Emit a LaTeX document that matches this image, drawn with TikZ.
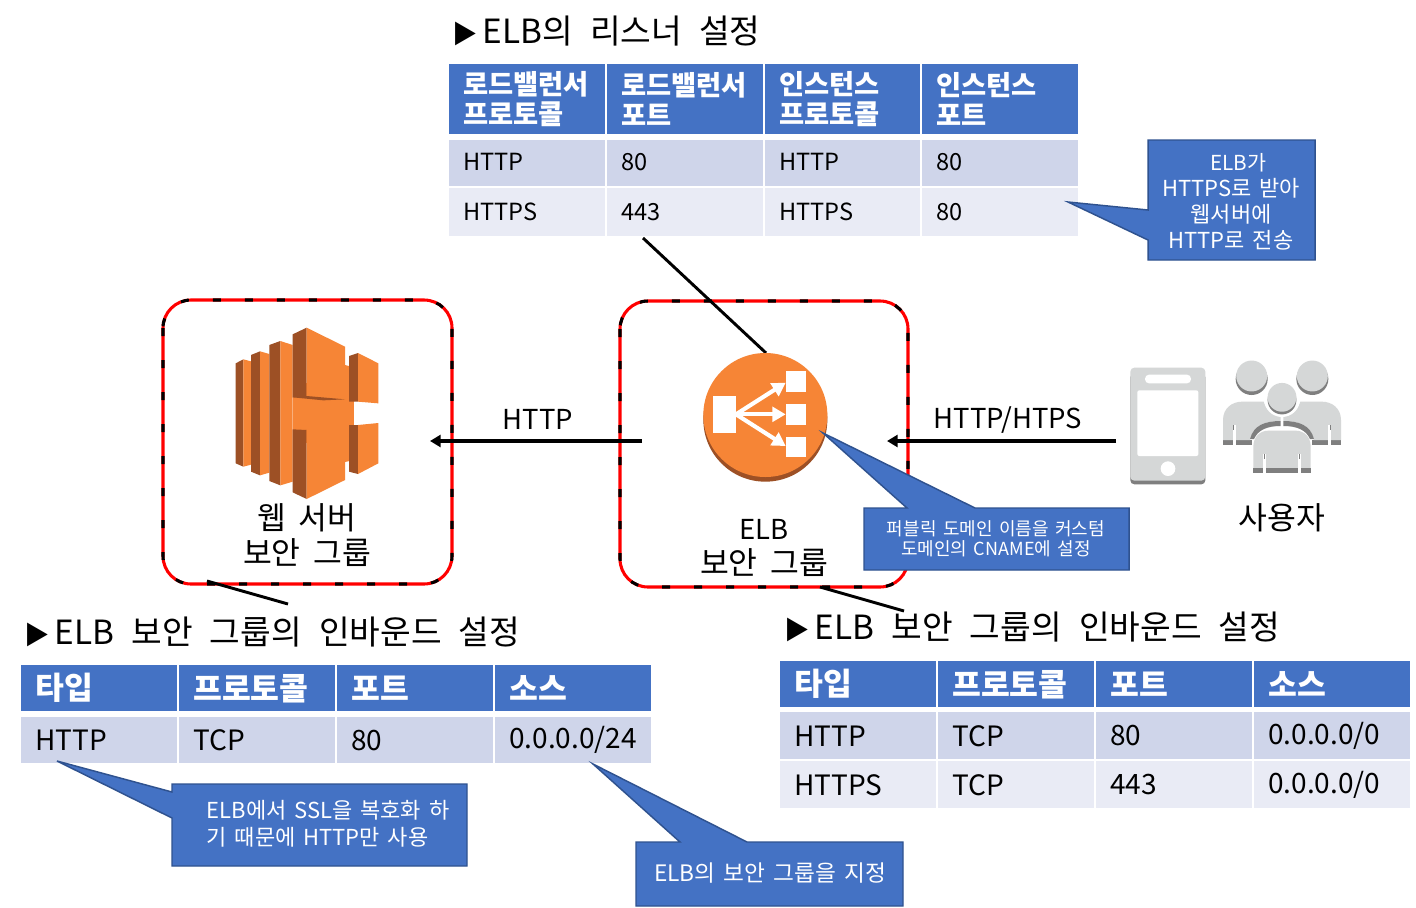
\documentclass[tikz,border=0pt]{standalone}
\usepackage{fontspec}
\setmainfont[WordSpace=1.6]{Noto Sans CJK KR}
\newfontfamily\widefont[WordSpace=2.3]{Noto Sans CJK KR}
\newfontfamily\labelfont[WordSpace=1.8]{Noto Sans CJK KR}
\usetikzlibrary{arrows.meta}
\definecolor{hdrblue}{HTML}{4472C4}
\definecolor{bandA}{HTML}{CFD5EA}
\definecolor{bandB}{HTML}{E9EBF5}
\definecolor{calloutedge}{HTML}{2F528F}
\definecolor{awsorange}{HTML}{F68536}
\definecolor{awsdark}{HTML}{9D5025}
\definecolor{greyL}{HTML}{D5D7D7}
\definecolor{greyD}{HTML}{7F7F7F}
\tikzset{
 hdrcell/.style={fill=hdrblue,text=white,font=\fontsize{20.5}{22.5}\selectfont\bfseries},
 bandacell/.style={fill=bandA,text=black,font=\fontsize{17.7}{22}\selectfont},
 bandbcell/.style={fill=bandB,text=black,font=\fontsize{17.7}{22}\selectfont},
 hdrcellbig/.style={fill=hdrblue,text=white,font=\fontsize{23.5}{26}\selectfont\bfseries},
 bandacellbig/.style={fill=bandA,text=black,font=\fontsize{21}{24}\selectfont},
 bandbcellbig/.style={fill=bandB,text=black,font=\fontsize{21}{24}\selectfont},
 calloutshape/.style={fill=hdrblue,draw=calloutedge,line width=1.1pt,line join=miter},
 callouttext/.style={text=white,align=center,inner sep=0pt},
 link/.style={draw=black,line width=2.2pt},
 flow/.style={draw=black,line width=3pt,-{Triangle[length=8pt,width=9pt]}},
 title/.style={anchor=west,inner sep=0pt,font=\widefont\fontsize{25}{28}\selectfont},
 label/.style={align=center,inner sep=0pt,font=\labelfont\fontsize{23.5}{26.5}\selectfont},
 latinlabel/.style={align=center,inner sep=0pt,font=\fontsize{20.6}{24}\selectfont},
 sgbox/.style={rounded corners=21pt,line width=2.3pt},
 elbarrow/.style={white,line width=3.1pt,-{Triangle[length=10pt,width=11pt]}}
}
\newcommand{\tcell}[7]{%
 \pgfmathsetlengthmacro{\cw}{(#4-#2)*0.75-21}%
 \pgfmathsetlengthmacro{\ch}{(#5-#3)*0.75}%
 \node[#6,anchor=north west,inner xsep=10.5pt,inner ysep=0pt,text width=\cw,minimum height=\ch,align=left] (#1) at (#2,#3) {#7};}
\newcommand{\tri}{\hspace*{-2pt}{\fontsize{19}{19}\selectfont ▶}\hspace{3.5pt}}
\newcommand{\up}[1]{\raisebox{1.4pt}{#1}}
\newcommand{\xs}{\hspace{2.8pt} }
\begin{document}
\begin{tikzpicture}[x=0.75pt,y=-0.75pt]
\useasboundingbox (0,0) rectangle (1416,907);
\fill[white] (0,0) rectangle (1416,907);

% security group boxes
\coordinate (wa) at (163,300); \coordinate (wb) at (452,584);
\coordinate (ea) at (620,301); \coordinate (eb) at (908,587);
\draw[sgbox,red] (wa) rectangle (wb);
\draw[sgbox,black,dash pattern=on 6pt off 18pt] (wa) rectangle (wb);
\draw[sgbox,red] (ea) rectangle (eb);
\draw[sgbox,black,dash pattern=on 6pt off 18pt] (ea) rectangle (eb);

% titles
\node[title] (t1) at (455,31) {\tri ELB의\xs 리스너\xs 설정};
\node[title] (t2) at (27,632) {\tri ELB\xs 보안\xs 그룹의\xs 인바운드\xs 설정};
\node[title] (t3) at (787,627) {\tri ELB\xs 보안\xs 그룹의\xs 인바운드\xs 설정};

% top table
\tcell{a11}{449}{64}{605}{134}{hdrcell}{로드밸런서\\프로토콜}
\tcell{a12}{607}{64}{763}{134}{hdrcell}{로드밸런서\\포트}
\tcell{a13}{765}{64}{920}{134}{hdrcell}{인스턴스\\프로토콜}
\tcell{a14}{922}{64}{1078}{134}{hdrcell}{인스턴스\\포트}
\tcell{a21}{449}{140}{605}{186}{bandacell}{\up{HTTP}}
\tcell{a22}{607}{140}{763}{186}{bandacell}{\up{80}}
\tcell{a23}{765}{140}{920}{186}{bandacell}{\up{HTTP}}
\tcell{a24}{922}{140}{1078}{186}{bandacell}{\up{80}}
\tcell{a31}{449}{188}{605}{236}{bandbcell}{HTTPS}
\tcell{a32}{607}{188}{763}{236}{bandbcell}{443}
\tcell{a33}{765}{188}{920}{236}{bandbcell}{HTTPS}
\tcell{a34}{922}{188}{1078}{236}{bandbcell}{80}

% left table
\tcell{b11}{21}{665}{177}{711}{hdrcellbig}{타입}
\tcell{b12}{179}{665}{335}{711}{hdrcellbig}{프로토콜}
\tcell{b13}{337}{665}{493}{711}{hdrcellbig}{포트}
\tcell{b14}{495}{665}{651}{711}{hdrcellbig}{소스}
\tcell{b21}{21}{717}{177}{763}{bandacellbig}{HTTP}
\tcell{b22}{179}{717}{335}{763}{bandacellbig}{TCP}
\tcell{b23}{337}{717}{493}{763}{bandacellbig}{80}
\tcell{b24}{495}{717}{651}{763}{bandacellbig}{0.0.0.0/24}

% right table
\tcell{c11}{780}{661}{936}{707}{hdrcellbig}{타입}
\tcell{c12}{938}{661}{1094}{707}{hdrcellbig}{프로토콜}
\tcell{c13}{1096}{661}{1252}{707}{hdrcellbig}{포트}
\tcell{c14}{1254}{661}{1410}{707}{hdrcellbig}{소스}
\tcell{c21}{780}{712}{936}{759}{bandacellbig}{HTTP}
\tcell{c22}{938}{712}{1094}{759}{bandacellbig}{TCP}
\tcell{c23}{1096}{712}{1252}{759}{bandacellbig}{80}
\tcell{c24}{1254}{712}{1410}{759}{bandacellbig}{0.0.0.0/0}
\tcell{c31}{780}{761}{936}{808}{bandbcellbig}{HTTPS}
\tcell{c32}{938}{761}{1094}{808}{bandbcellbig}{TCP}
\tcell{c33}{1096}{761}{1252}{808}{bandbcellbig}{443}
\tcell{c34}{1254}{761}{1410}{808}{bandbcellbig}{0.0.0.0/0}

% EC2 icon
\begin{scope}[shift={(150,290)},x=0.25pt,y=-0.25pt]
\fill[awsorange] (585,225)--(612,232)--(612,510)--(585,516)--cycle;
\fill[awsorange] (428,280) rectangle (612,460);
\fill[awsdark] (257,220)--(280,208)--(280,530)--(257,520)--cycle;
\fill[awsorange] (280,208)--(303,214)--(303,524)--(280,530)--cycle;
\fill[awsdark] (303,195)--(330,184)--(330,556)--(303,545)--cycle;
\fill[awsorange] (330,184)--(358,192)--(358,548)--(330,556)--cycle;
\fill[awsdark] (358,165)--(391,153)--(391,586)--(358,573)--cycle;
\fill[awsorange] (391,153)--(428,165)--(428,575)--(391,586)--cycle;
\fill[awsdark] (428,133)--(470,113)--(470,320)--(428,322)--cycle;
\fill[awsorange] (470,113)--(585,170)--(585,328)--(470,320)--cycle;
\fill[awsdark] (428,322)--(470,318)--(585,328)--(520,331)--cycle;
\fill[awsdark] (428,418)--(470,420)--(470,627)--(428,607)--cycle;
\fill[awsorange] (470,420)--(585,407)--(585,570)--(470,627)--cycle;
\fill[white] (612,335)--(612,405)--(690,405)--(690,335)--cycle;
\fill[awsdark] (597,198)--(624,189)--(624,335)--(597,335)--cycle;
\fill[awsorange] (624,189)--(685,220)--(685,340)--(624,335)--cycle;
\fill[awsdark] (597,405)--(624,405)--(624,552)--(597,545)--cycle;
\fill[awsorange] (624,405)--(685,399)--(685,520)--(624,552)--cycle;
\end{scope}

% connectors
\coordinate (p1) at (643,238); \coordinate (p2) at (766,353);
\coordinate (p3) at (207,581); \coordinate (p4) at (288,604);
\coordinate (p5) at (820,587); \coordinate (p6) at (904,611);
\coordinate (f1) at (642,441); \coordinate (f2) at (430,441);
\coordinate (f3) at (1116,441); \coordinate (f4) at (887,441);
\draw[link] (p1)--(p2);
\draw[link] (p3)--(p4);
\draw[link] (p5)--(p6);
\draw[flow] (f1)--(f2);
\draw[flow] (f3)--(f4);

% ELB icon
\begin{scope}[shift={(610,290)},x=0.25pt,y=-0.25pt]
\fill[awsdark] (466,389) circle[radius=186*0.25pt];
\fill[awsorange] (466,375) circle[radius=186*0.25pt];
\fill[white] (310,318) rectangle (378,428);
\fill[white] (527,244) rectangle (587,305);
\fill[white] (527,342) rectangle (587,404);
\fill[white] (527,441) rectangle (587,502);
\draw[elbarrow] (378,373)--(527,278);
\draw[elbarrow] (378,373)--(527,373);
\draw[elbarrow] (378,373)--(527,468);
\end{scope}

% phone and users
\begin{scope}[shift={(1110,340)},x=0.25pt,y=-0.25pt]
\fill[greyD,rounded corners=3pt] (61,100) rectangle (286,433);
\fill[greyL,rounded corners=3pt] (61,83) rectangle (286,422);
\fill[white,rounded corners=1.5pt] (82,151) rectangle (265,348);
\fill[white,rounded corners=3pt] (105,104) rectangle (243,130);
\fill[white] (174,386) circle[radius=5.5pt];
% back bodies
\foreach \m in {1,-1}{
\begin{scope}[xshift=516*0.25pt,xscale=\m]
\fill[greyD] (-90,300)--(-177,300)--(-177,314)--(-90,314)--cycle;
\fill[greyL] (-177,300)--(-177,240) .. controls (-177,205) and (-150,185) .. (-120,185)
 --(-55,185) .. controls (-45,215) and (-25,225) .. (-4,228)--(-4,243)
 .. controls (-50,243) and (-85,255) .. (-96,300)--cycle;
\fill[greyD] (-4,243) .. controls (-50,243) and (-85,255) .. (-96,297)--(-84,297)
 .. controls (-72,270) and (-45,258) .. (-4,258)--cycle;
\fill[white] (-148,255) rectangle (-138,316);
\fill[greyD] (-148,255) rectangle (-143,270);
\end{scope}}
% heads
\foreach \hx in {425,607}{
\fill[greyD] (\hx,117) circle[radius=12pt];
\fill[greyL] (\hx,108) circle[radius=11.6pt];}
\fill[white] (516,177) circle[radius=13.5pt];
\fill[greyD] (516,180) circle[radius=10.8pt];
\fill[greyL] (516,172) circle[radius=10.8pt];
% front body
\fill[greyL] (430,386)--(430,320) .. controls (430,290) and (450,272) .. (475,272)
 --(557,272) .. controls (582,272) and (602,290) .. (602,320)--(602,386)--cycle;
\fill[greyD] (430,385) rectangle (602,400);
\fill[white] (460,342) rectangle (468,402);
\fill[white] (564,342) rectangle (572,402);
\fill[greyD] (461,342) rectangle (466,356);
\fill[greyD] (566,342) rectangle (571,356);
\end{scope}

% labels
\node[latinlabel] (lbl1) at (538,419) {HTTP};
\node[latinlabel] (lbl2) at (1008,420) {HTTP/HTPS};
\node[label] (lbl3) at (307,535) {웹 서버\\보안 그룹};
\node[label] (lbl4) at (764,548) {{\fontsize{20.6}{26.5}\selectfont ELB}\\보안 그룹};
\node[label] (lbl5) at (1282,518) {사용자};

% callouts
\draw[calloutshape] (1148,140)--(1315,140)--(1315,260)--(1148,260)--(1148,240)--(1068,202)--(1148,210)--cycle;
\node[callouttext,font=\fontsize{16.5}{19.6}\selectfont] (n1) at (1231,201.5) {\hspace*{11pt}{\fontsize{15.5}{19.6}\selectfont ELB가}\\HTTPS로 받아\\웹서버에\\HTTP로 전송};
\draw[calloutshape] (864,508)--(907,508)--(823,433)--(975,508)--(1129,508)--(1129,570)--(864,570)--cycle;
\node[callouttext,font=\fontsize{13.5}{15}\selectfont] (n2) at (996,539) {퍼블릭 도메인 이름을 커스텀\\도메인의 CNAME에 설정};
\draw[calloutshape] (172,784)--(467,784)--(467,866)--(172,866)--(172,818)--(57,761)--(172,792)--cycle;
\node[callouttext,font=\fontsize{16.5}{20}\selectfont,align=left] (n3) at (328,824) {ELB에서 SSL을 복호화 하\\기 때문에 HTTP만 사용};
\draw[calloutshape] (636,842)--(680,842)--(593,764)--(747,842)--(903,842)--(903,906)--(636,906)--cycle;
\node[callouttext,font=\fontsize{17}{20}\selectfont] (n4) at (770,873) {ELB의 보안 그룹을 지정};
\end{tikzpicture}
\end{document}
